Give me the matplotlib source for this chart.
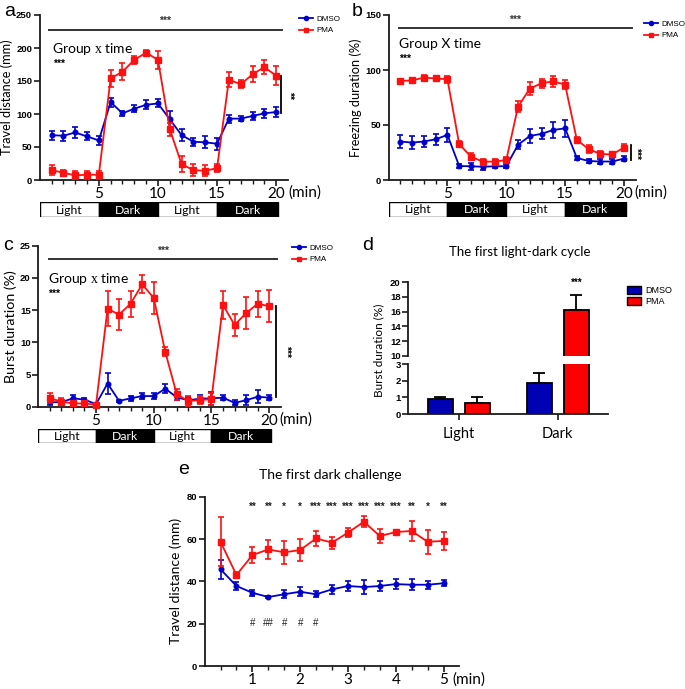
import matplotlib
matplotlib.use('Agg')
import matplotlib.pyplot as plt
import numpy as np
from matplotlib.patches import Patch
from matplotlib.lines import Line2D

W, H = 685, 689
plt.rcParams['font.family'] = ['Lato', 'DejaVu Sans']
plt.rcParams['mathtext.fontset'] = 'custom'
plt.rcParams['mathtext.rm'] = 'Liberation Serif'

# ---------------- data ----------------
minutes = np.arange(1, 21)
phase_labels = ['Light', 'Dark', 'Light', 'Dark']
phase_starts = [0, 5, 10, 15]
phase_ends = [5, 10, 15, 20.15]

a_dmso = [68, 67, 72, 66, 60, 118, 101, 108, 114, 116, 92, 68, 58, 57, 55, 93, 93, 97, 101, 103]
a_dmso_err = [7, 8, 8, 6, 7, 7, 4, 5, 7, 6, 12, 9, 6, 9, 9, 6, 4, 6, 7, 7]
a_pma = [15, 11, 7, 8, 8, 154, 164, 182, 193, 182, 77, 24, 15, 14, 18, 152, 145, 160, 171, 158]
a_pma_err = [7, 4, 6, 6, 6, 13, 13, 6, 4, 14, 10, 12, 9, 8, 6, 11, 6, 12, 11, 14]

b_dmso = [35, 34, 35, 37, 41, 12.7, 12.5, 12, 12.5, 12.5, 32, 40, 42, 45.5, 47, 20, 17.3, 16.8, 16.8, 19.4]
b_dmso_err = [6, 6, 5, 5, 6, 2, 3, 3, 2, 2, 4, 6, 5, 7, 8, 2, 2, 2, 2, 2]
b_pma = [90, 90.6, 93, 92.4, 91.5, 32.7, 21.2, 16.7, 16.7, 18.2, 66.7, 83, 88, 89.7, 86.7, 36.4, 28.2, 23.6, 23.3, 29.4]
b_pma_err = [2, 1, 2, 2, 3, 3, 3, 2, 2, 3, 5, 6, 4, 5, 4, 3, 4, 3, 2, 3]

c_dmso = [0.7, 0.7, 1.3, 1.1, 0.4, 3.6, 0.9, 1.3, 1.65, 1.65, 2.8, 1.45, 1.0, 1.25, 1.3, 1.4, 0.6, 1.0, 1.55, 1.4]
c_dmso_err = [0.4, 0.3, 0.5, 0.3, 0.2, 1.7, 0.2, 0.4, 0.5, 0.4, 0.7, 0.4, 0.5, 0.6, 1.0, 0.4, 0.4, 0.8, 1.0, 0.4]
c_pma = [1.3, 0.8, 0.5, 0.5, 0.3, 15.2, 14.3, 16.0, 19.0, 16.9, 8.5, 1.9, 0.9, 1.0, 1.2, 15.8, 12.7, 14.5, 16.0, 15.6]
c_pma_err = [0.8, 0.5, 0.3, 0.3, 0.2, 2.7, 2.4, 2.0, 1.4, 2.5, 0.7, 0.9, 0.8, 0.6, 0.9, 2.2, 1.7, 2.5, 2.0, 2.5]

d_groups = ['Light', 'Dark']
d_dmso = [0.88, 1.84]
d_dmso_err = [0.16, 0.60]
d_pma = [0.64, 16.23]
d_pma_err = [0.36, 2.07]

e_time = np.arange(1, 16) / 3.0
e_dmso = [45.7, 37.8, 34.6, 32.6, 33.9, 35.1, 33.9, 36.2, 37.8, 37.3, 37.8, 38.7, 38.4, 38.4, 39.1]
e_dmso_err = [4.5, 2, 1.5, 0.5, 2, 2, 1.5, 2, 2.5, 3.5, 2.5, 2.5, 2.5, 2, 1.5]
e_pma = [58.7, 43.0, 52.4, 55.1, 53.7, 54.8, 60.3, 58.3, 63.0, 68.2, 61.4, 63.3, 63.8, 58.7, 59.1]
e_pma_err = [11.5, 1.5, 3.8, 4.5, 5.5, 5, 3.7, 2.8, 2.0, 2.5, 3.3, 1.2, 4.5, 5.8, 4.3]
e_stars = ['', '', '**', '**', '*', '*', '***', '***', '***', '***', '***', '***', '**', '*', '**']
e_hashes = ['', '', '#', '##', '#', '#', '#', '', '', '', '', '', '', '', '']

BLUE = '#0000CC'
RED = '#FF1010'
SPINE = '#1a1a1a'

fig = plt.figure(figsize=(W / 100, H / 100), dpi=100)


def px_axes(l, t, r, b):
    return fig.add_axes([l / W, 1 - b / H, (r - l) / W, (b - t) / H])


def style(ax, yticks):
    for s in ['top', 'right']:
        ax.spines[s].set_visible(False)
    for s in ['left', 'bottom']:
        ax.spines[s].set_linewidth(1.3)
        ax.spines[s].set_color(SPINE)
    ax.tick_params(direction='out', length=4, width=1.2, color=SPINE)
    ax.tick_params(which='minor', length=3, width=1.0, color=SPINE)
    ax.set_yticks(yticks)
    ax.set_yticklabels([str(t) for t in yticks], fontfamily='Liberation Sans',
                       fontweight='bold', fontsize=6.8)
    ax.tick_params(axis='y', pad=1.5)


def series(ax, x, dm, dme, pm, pme):
    ax.errorbar(x, dm, yerr=dme, color=BLUE, marker='o', ms=3.3, lw=1.3,
                elinewidth=1.2, capsize=2, capthick=1.2, label='DMSO', clip_on=False, zorder=3)
    ax.errorbar(x, pm, yerr=pme, color=RED, marker='s', ms=3.8, lw=1.3,
                elinewidth=1.2, capsize=2, capthick=1.2, label='PMA', clip_on=False, zorder=4)


def legend_lines(x, y):
    h = [Line2D([], [], color=BLUE, marker='o', ms=3, lw=1.3),
         Line2D([], [], color=RED, marker='s', ms=3.5, lw=1.3)]
    fig.legend(h, ['DMSO', 'PMA'], loc='upper left', bbox_to_anchor=(x / W, 1 - y / H),
               frameon=False, prop={'family': 'Liberation Sans', 'size': 5.8},
               handlelength=1.7, handletextpad=0.45, labelspacing=0.5, borderpad=0)


def phase_bar(l, t, r, b, xlim):
    bx = px_axes(l, t, r, b)
    widths = [e - s for s, e in zip(phase_starts, phase_ends)]
    cols = ['white' if p == 'Light' else 'black' for p in phase_labels]
    bx.bar(phase_starts, [1] * 4, width=widths, align='edge', color=cols,
           edgecolor='black', linewidth=1.0)
    for s, w, p in zip(phase_starts, widths, phase_labels):
        bx.text(s + w / 2, 0.45, p, ha='center', va='center', fontsize=8.8,
                color='black' if p == 'Light' else 'white')
    bx.set_xlim(*xlim)
    bx.set_ylim(0, 1)
    bx.axis('off')


def time_axes(ax, ylim, yticks, ylabel, minx, ylsize):
    ax.set_xlim(0, 21)
    ax.set_ylim(*ylim)
    style(ax, yticks)
    ax.set_xticks([5, 10, 15, 20])
    ax.set_xticklabels(['5', '10', '15', '20'], fontsize=11)
    ax.set_xticks(np.arange(1, 21), minor=True)
    ax.tick_params(axis='x', pad=1)
    ax.set_ylabel(ylabel, fontsize=ylsize, labelpad=2)
    ax.text(minx, -0.078, '(min)', transform=ax.get_xaxis_transform(),
            ha='left', va='center', fontsize=11)


def sig(ax, x0, x1, y, label, ysz):
    ax.plot([x0, x1], [y, y], color='#333333', lw=1.4, clip_on=False)
    ax.text((x0 + x1) / 2, y + ysz, label, ha='center', va='center',
            fontsize=7.5, fontfamily='Liberation Sans', fontweight='bold', color='#333333')


def vsig(ax, x, y0, y1, label, xt):
    ax.plot([x, x], [y0, y1], color='black', lw=1.3, clip_on=False)
    ax.text(xt, (y0 + y1) / 2, label, rotation=-90, ha='center', va='center',
            fontsize=7.5, fontfamily='Liberation Sans', fontweight='bold')


# ---------------- panel a ----------------
axa = px_axes(39.7, 15, 288, 180)
series(axa, minutes, a_dmso, a_dmso_err, a_pma, a_pma_err)
time_axes(axa, (0, 250), [0, 50, 100, 150, 200, 250], 'Travel distance (mm)', 21.0, 9.2)
sig(axa, 0.78, 20.5, 228, '***', 13)
vsig(axa, 20.4, 157, 102, '**', 21.1)
axa.text(1.0, 199, 'Group $\\mathrm{x}$ time', fontsize=10, va='center')
axa.text(1.1, 176, '***', fontsize=7.5, va='center', fontfamily='Liberation Sans', fontweight='bold')
legend_lines(295, 11)
phase_bar(39.7, 202, 288, 217, (0, 21))
fig.text(4 / W, 1 - 11 / H, 'a', fontsize=14, fontfamily='Liberation Sans', va='center')

# ---------------- panel b ----------------
axb = px_axes(388.6, 15, 635.7, 180)
series(axb, minutes, b_dmso, b_dmso_err, b_pma, b_pma_err)
time_axes(axb, (0, 150), [0, 50, 100, 150], 'Freezing duration (%)', 20.9, 9.2)
sig(axb, 0.89, 20.67, 138, '***', 7.5)
vsig(axb, 20.6, 31.5, 18.2, '***', 21.05)
axb.text(0.9, 123.5, 'Group X time', fontsize=10, va='center')
axb.text(0.9, 110, '***', fontsize=7.5, va='center', fontfamily='Liberation Sans', fontweight='bold')
legend_lines(640, 16)
phase_bar(388.6, 201.7, 635.7, 216.7, (0, 21))
fig.text(352 / W, 1 - 11 / H, 'b', fontsize=14, fontfamily='Liberation Sans', va='center')

# ---------------- panel c ----------------
axc = px_axes(38.3, 245.7, 280.7, 406.7)
series(axc, minutes, c_dmso, c_dmso_err, c_pma, c_pma_err)
time_axes(axc, (0, 25), [0, 5, 10, 15, 20, 25], 'Burst duration (%)', 20.9, 10.3)
sig(axc, 0.93, 20.7, 22.9, '***', 1.3)
vsig(axc, 20.6, 15.6, 1.55, '***', 21.45)
axc.text(0.8, 19.9, 'Group $\\mathrm{x}$ time', fontsize=10, va='center')
axc.text(0.87, 17.5, '***', fontsize=7.5, va='center', fontfamily='Liberation Sans', fontweight='bold')
legend_lines(288, 240)
phase_bar(38.3, 429, 280.7, 443, (0, 21))
fig.text(3 / W, 1 - 246 / H, 'c', fontsize=14, fontfamily='Liberation Sans', va='center')

# ---------------- panel d ----------------
xg = np.arange(len(d_groups))
off = 0.1875
bw = 0.252
axd_top = px_axes(408.3, 282.3, 608.3, 355.7)
axd_bot = px_axes(408.3, 364, 608.3, 414)
for ax in (axd_top, axd_bot):
    ax.bar(xg - off, d_dmso, width=bw, color='#0000B4', edgecolor='black', linewidth=1.3, zorder=2)
    ax.bar(xg + off, d_pma, width=bw, color='#FF0000', edgecolor='black', linewidth=1.3, zorder=2)
    ax.errorbar(xg - off, d_dmso, yerr=[[0] * 2, d_dmso_err], fmt='none', ecolor='black',
                elinewidth=1.3, capsize=4, capthick=1.3, zorder=1)
    ax.errorbar(xg + off, d_pma, yerr=[[0] * 2, d_pma_err], fmt='none', ecolor='black',
                elinewidth=1.3, capsize=4, capthick=1.3, zorder=1)
    ax.set_xlim(-0.51, 1.51)
axd_top.set_ylim(10, 20)
style(axd_top, [10, 12, 14, 16, 18, 20])
axd_top.spines['bottom'].set_visible(False)
axd_top.set_xticks([])
axd_bot.set_ylim(0, 3)
style(axd_bot, [0, 1, 2, 3])
axd_bot.set_xticks(xg)
axd_bot.set_xticklabels(d_groups, fontsize=10.5)
axd_bot.tick_params(axis='x', pad=5)
axd_top.text(1 + off, 19.9, '***', ha='center', va='center', fontsize=7,
             fontfamily='Liberation Sans', fontweight='bold')
fig.text(379 / W, 1 - 350 / H, 'Burst duration (%)', rotation=90, ha='center', va='center', fontsize=8.5)
fig.text(520 / W, 1 - 252 / H, 'The first light-dark cycle', ha='center', va='center', fontsize=9.5)
fig.legend([Patch(facecolor='#0000B4', edgecolor='black'), Patch(facecolor='#FF0000', edgecolor='black')],
           ['DMSO', 'PMA'], loc='upper left', bbox_to_anchor=(622 / W, 1 - 281 / H), frameon=False,
           prop={'family': 'Liberation Sans', 'size': 6.5}, handlelength=1.6, handleheight=1.0,
           handletextpad=0.5, labelspacing=0.3, borderpad=0)
fig.text(362 / W, 1 - 245 / H, 'd', fontsize=14, fontfamily='Liberation Sans', va='center')

# ---------------- panel e ----------------
axe = px_axes(204.6, 496.7, 459.3, 666)
series(axe, e_time, e_dmso, e_dmso_err, e_pma, e_pma_err)
axe.set_xlim(0, 5.33)
axe.set_ylim(0, 80)
style(axe, [0, 20, 40, 60, 80])
axe.set_xticks([1, 2, 3, 4, 5])
axe.set_xticklabels(['1', '2', '3', '4', '5'], fontsize=11)
axe.set_xticks(e_time, minor=True)
axe.tick_params(axis='x', pad=1)
axe.set_ylabel('Travel distance (mm)', fontsize=10, labelpad=3)
axe.text(5.19, -0.078, '(min)', transform=axe.get_xaxis_transform(), ha='left', va='center', fontsize=11)
for t, s, hsh in zip(e_time, e_stars, e_hashes):
    if s:
        axe.text(t, 75.3, s, ha='center', va='center', fontsize=7,
                 fontfamily='Liberation Sans', fontweight='bold', color='#222222')
    if hsh:
        axe.text(t, 20.2, hsh, ha='center', va='center', fontsize=7,
                 fontfamily='Liberation Sans', color='#222222')
fig.text(330 / W, 1 - 475 / H, 'The first dark challenge', ha='center', va='center', fontsize=10)
fig.text(178 / W, 1 - 469 / H, 'e', fontsize=14, fontfamily='Liberation Sans', va='center')

fig.savefig('out.png', dpi=100)
